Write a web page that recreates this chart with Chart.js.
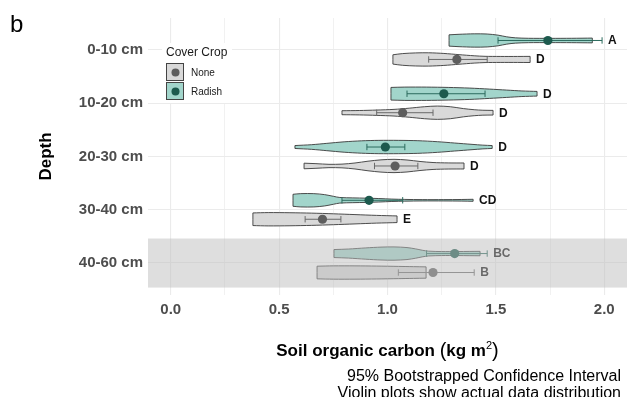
<!DOCTYPE html>
<html><head><meta charset="utf-8">
<script src="https://cdn.jsdelivr.net/npm/chart.js@4.4.1/dist/chart.umd.min.js"></script>
<style>html,body{margin:0;padding:0;background:#fff;overflow:hidden}canvas{display:block}</style>
</head><body>
<canvas id="c" width="627" height="397"></canvas>
<script>
// ---------------- data ----------------
const depths = ['0-10 cm', '10-20 cm', '20-30 cm', '30-40 cm', '40-60 cm'];
const crops = ['None', 'Radish'];
const xTickLabels = ['0.0', '0.5', '1.0', '1.5', '2.0'];

// bootstrapped means and 95% CI
const noneMean = [1.32, 1.07, 1.035, 0.70, 1.21];
const noneLo   = [1.19, 0.95, 0.94, 0.62, 1.05];
const noneHi   = [1.46, 1.21, 1.14, 0.785, 1.40];
const radishMean = [1.74, 1.26, 0.99, 0.915, 1.31];
const radishLo   = [1.51, 1.09, 0.905, 0.79, 1.18];
const radishHi   = [1.99, 1.45, 1.08, 1.07, 1.46];

// significance letters
const noneLetters = ['D', 'D', 'D', 'E', 'B'];
const radishLetters = ['A', 'D', 'D', 'CD', 'BC'];

// violin profiles: [soil organic carbon, relative density]
const noneViolins = [
  [[1.025,0.7],[1.07,0.88],[1.13,0.98],[1.19,1.0],[1.26,0.9],[1.33,0.72],[1.40,0.55],[1.45,0.47],[1.52,0.45],[1.60,0.45],[1.658,0.46]],
  [[0.79,0.3],[0.87,0.33],[0.95,0.4],[1.03,0.5],[1.10,0.68],[1.17,0.9],[1.23,1.0],[1.29,0.9],[1.35,0.62],[1.40,0.45],[1.44,0.37],[1.487,0.35]],
  [[0.615,0.42],[0.67,0.35],[0.73,0.25],[0.79,0.28],[0.85,0.45],[0.91,0.72],[0.97,0.92],[1.03,1.0],[1.09,0.9],[1.15,0.68],[1.21,0.52],[1.28,0.46],[1.353,0.45]],
  [[0.379,0.95],[0.45,1.0],[0.55,0.98],[0.65,0.92],[0.75,0.82],[0.85,0.7],[0.95,0.58],[1.044,0.5]],
  [[0.675,0.95],[0.75,1.0],[0.85,1.0],[0.95,0.97],[1.05,0.92],[1.12,0.88],[1.178,0.85]]
];
const radishViolins = [
  [[1.284,0.85],[1.33,0.93],[1.40,1.0],[1.46,0.97],[1.51,0.8],[1.55,0.55],[1.59,0.4],[1.65,0.33],[1.75,0.32],[1.85,0.33],[1.945,0.36]],
  [[1.016,0.95],[1.08,1.0],[1.18,1.0],[1.28,0.95],[1.38,0.85],[1.47,0.7],[1.55,0.55],[1.62,0.42],[1.69,0.35]],
  [[0.573,0.22],[0.65,0.35],[0.72,0.55],[0.80,0.78],[0.88,0.93],[0.96,1.0],[1.05,1.0],[1.14,0.95],[1.23,0.8],[1.31,0.6],[1.39,0.4],[1.44,0.28],[1.483,0.22]],
  [[0.564,0.9],[0.60,1.0],[0.66,1.0],[0.71,0.85],[0.75,0.6],[0.78,0.42],[0.84,0.36],[0.90,0.32],[0.96,0.26],[1.02,0.18],[1.08,0.13],[1.16,0.1],[1.26,0.1],[1.34,0.12],[1.395,0.15]],
  [[0.753,0.6],[0.82,0.68],[0.90,0.85],[0.97,0.97],[1.03,1.0],[1.09,0.9],[1.13,0.7],[1.16,0.5],[1.19,0.36],[1.25,0.3],[1.32,0.3],[1.38,0.32],[1.427,0.33]]
];
const highlightDepth = '40-60 cm';

// ---------------- styling ----------------
const FONT = '"Liberation Sans", Arial, Helvetica, sans-serif';
const HALF = 0.125;   // max violin half-width (category units)
const DODGE = 0.178;  // dodge offset
const groups = [
  {name: crops[0], shapes: noneViolins, mean: noneMean, lo: noneLo, hi: noneHi, letters: noneLetters,
   off: DODGE, fill: '#d9d9d9', pt: '#5e5e5e', bar: '#6a6a6a'},
  {name: crops[1], shapes: radishViolins, mean: radishMean, lo: radishLo, hi: radishHi, letters: radishLetters,
   off: -DODGE, fill: '#a2d5cb', pt: '#1d5a4e', bar: '#2b6a5d'}
];

const datasets = [];
groups.forEach(g => {
  depths.forEach((d, i) => {
    const yc = i + g.off;
    const prof = g.shapes[i];
    const top = prof.map(([x, w]) => ({x, y: yc - HALF * w}));
    const bot = prof.map(([x, w]) => ({x, y: yc + HALF * w})).reverse();
    const n = top.length - 1;
    const pts = [...top, top[n], bot[0], ...bot, bot[n], top[0]].map(p => ({x: p.x, y: p.y}));
    datasets.push({
      type: 'line', label: g.name + ' ' + d, data: pts, showLine: true,
      fill: 'shape', backgroundColor: g.fill, borderColor: '#3a3a3a', borderWidth: 0.9,
      pointRadius: 0, tension: 0.3, order: 3
    });
    datasets.push({
      type: 'line', label: g.name + ' CI ' + d,
      data: [{x: g.lo[i], y: yc}, {x: g.hi[i], y: yc}],
      borderColor: g.bar, borderWidth: 1, fill: false, tension: 0,
      pointStyle: 'line', pointRotation: 90, pointRadius: 3.2,
      pointBorderColor: g.bar, pointBorderWidth: 1, order: 2
    });
    datasets.push({
      type: 'scatter', label: g.name + ' mean ' + d,
      data: [{x: g.mean[i], y: yc}],
      pointRadius: 4.6, backgroundColor: g.pt, borderColor: g.pt, borderWidth: 0, order: 1
    });
  });
});

const decor = {
  id: 'decor',
  afterDatasetsDraw(chart) {
    const {ctx, chartArea: a, scales: {x, y}} = chart;
    ctx.save();
    // significance letters
    ctx.font = 'bold 12px ' + FONT;
    ctx.fillStyle = '#111';
    ctx.textAlign = 'left';
    ctx.textBaseline = 'middle';
    groups.forEach(g => depths.forEach((d, i) => {
      const prof = g.shapes[i];
      const right = Math.max(prof[prof.length - 1][0], g.hi[i]);
      ctx.fillText(g.letters[i], x.getPixelForValue(right) + 6, y.getPixelForValue(i + g.off) + 0.5);
    }));
    // highlight band overlay
    const hi = depths.indexOf(highlightDepth);
    const y0 = y.getPixelForValue(hi - 0.46), y1 = y.getPixelForValue(hi + 0.46);
    ctx.fillStyle = 'rgba(190,190,190,0.5)';
    ctx.fillRect(a.left, y0, a.right - a.left, y1 - y0);
    // legend
    ctx.fillStyle = '#fff';
    ctx.fillRect(162, 43, 70, 60);
    ctx.fillStyle = '#1a1a1a';
    ctx.textAlign = 'left';
    ctx.textBaseline = 'alphabetic';
    ctx.font = '12px ' + FONT;
    ctx.fillText('Cover Crop', 166, 56);
    groups.forEach((g, k) => {
      const by = 63 + k * 19;
      ctx.fillStyle = g.fill;
      ctx.fillRect(166, by, 18, 18);
      ctx.strokeStyle = '#444';
      ctx.lineWidth = 1;
      ctx.strokeRect(166.5, by + 0.5, 17, 17);
      ctx.beginPath();
      ctx.arc(175.5, by + 9.5, 4, 0, Math.PI * 2);
      ctx.fillStyle = g.pt;
      ctx.fill();
      ctx.fillStyle = '#1a1a1a';
      ctx.font = '10px ' + FONT;
      ctx.textBaseline = 'middle';
      ctx.fillText(g.name, 191, by + 10);
      ctx.textBaseline = 'alphabetic';
    });
    ctx.restore();
  },
  afterDraw(chart) {
    const {ctx, chartArea: a} = chart;
    ctx.save();
    ctx.fillStyle = '#000';
    // panel tag
    ctx.font = '24px ' + FONT;
    ctx.textAlign = 'left';
    ctx.textBaseline = 'alphabetic';
    ctx.fillText('b', 10, 32);
    // y title
    ctx.save();
    ctx.translate(51, (a.top + a.bottom) / 2);
    ctx.rotate(-Math.PI / 2);
    ctx.font = 'bold 17px ' + FONT;
    ctx.textAlign = 'center';
    ctx.fillText('Depth', 0, 0);
    ctx.restore();
    // x title with superscript
    const parts = [
      ['Soil organic carbon ', 'bold 17px ' + FONT, 0],
      ['(', '20px ' + FONT, 1],
      ['kg m', 'bold 17px ' + FONT, 0],
      ['2', '11px ' + FONT, -7],
      [')', '20px ' + FONT, 1]
    ];
    let tot = 0;
    parts.forEach(p => { ctx.font = p[1]; tot += ctx.measureText(p[0]).width; });
    let cx = (a.left + a.right) / 2 - tot / 2;
    const by = 356;
    ctx.textAlign = 'left';
    parts.forEach(p => { ctx.font = p[1]; ctx.fillText(p[0], cx, by + p[2]); cx += ctx.measureText(p[0]).width; });
    // caption
    ctx.font = '16px ' + FONT;
    ctx.textAlign = 'right';
    ctx.fillText('95% Bootstrapped Confidence Interval', 621, 381);
    ctx.fillText('Violin plots show actual data distribution', 621, 398);
    ctx.restore();
  }
};

new Chart(document.getElementById('c'), {
  type: 'scatter',
  data: {datasets},
  options: {
    responsive: false,
    animation: false,
    devicePixelRatio: 1,
    events: [],
    layout: {autoPadding: false, padding: {top: 18, left: 0, right: 0, bottom: 0}},
    plugins: {legend: {display: false}, tooltip: {enabled: false}},
    scales: {
      x: {
        type: 'linear', min: -0.105, max: 2.105,
        afterBuildTicks: s => {
          const t = [];
          for (let k = 0; k <= 8; k++) t.push({value: k * 0.25});
          s.ticks = t;
        },
        afterFit: s => { s.height = 102; s.paddingLeft = 0; s.paddingRight = 0; },
        border: {display: false},
        grid: {
          color: '#ebebeb', drawTicks: false,
          lineWidth: c => (Math.abs((c.tick ? c.tick.value : 0) * 2 - Math.round((c.tick ? c.tick.value : 0) * 2)) < 1e-6 ? 1.1 : 0.7)
        },
        ticks: {
          padding: 6, autoSkip: false, maxRotation: 0, color: '#4d4d4d',
          font: {family: FONT, size: 15, weight: 'bold'},
          callback: v => {
            const k = Math.round(v * 2);
            return Math.abs(v * 2 - k) < 1e-6 ? xTickLabels[k] : '';
          }
        }
      },
      y: {
        type: 'linear', min: -0.6, max: 4.6, reverse: true,
        afterBuildTicks: s => { s.ticks = depths.map((d, i) => ({value: i})); },
        afterFit: s => { s.width = 148; s.paddingTop = 0; s.paddingBottom = 0; },
        border: {display: false},
        grid: {color: '#ebebeb', lineWidth: 1.1, drawTicks: false},
        ticks: {
          padding: 5, color: '#4d4d4d', autoSkip: false,
          font: {family: FONT, size: 15, weight: 'bold'},
          callback: v => depths[Math.round(v)]
        }
      }
    }
  },
  plugins: [decor]
});
</script>
</body></html>
